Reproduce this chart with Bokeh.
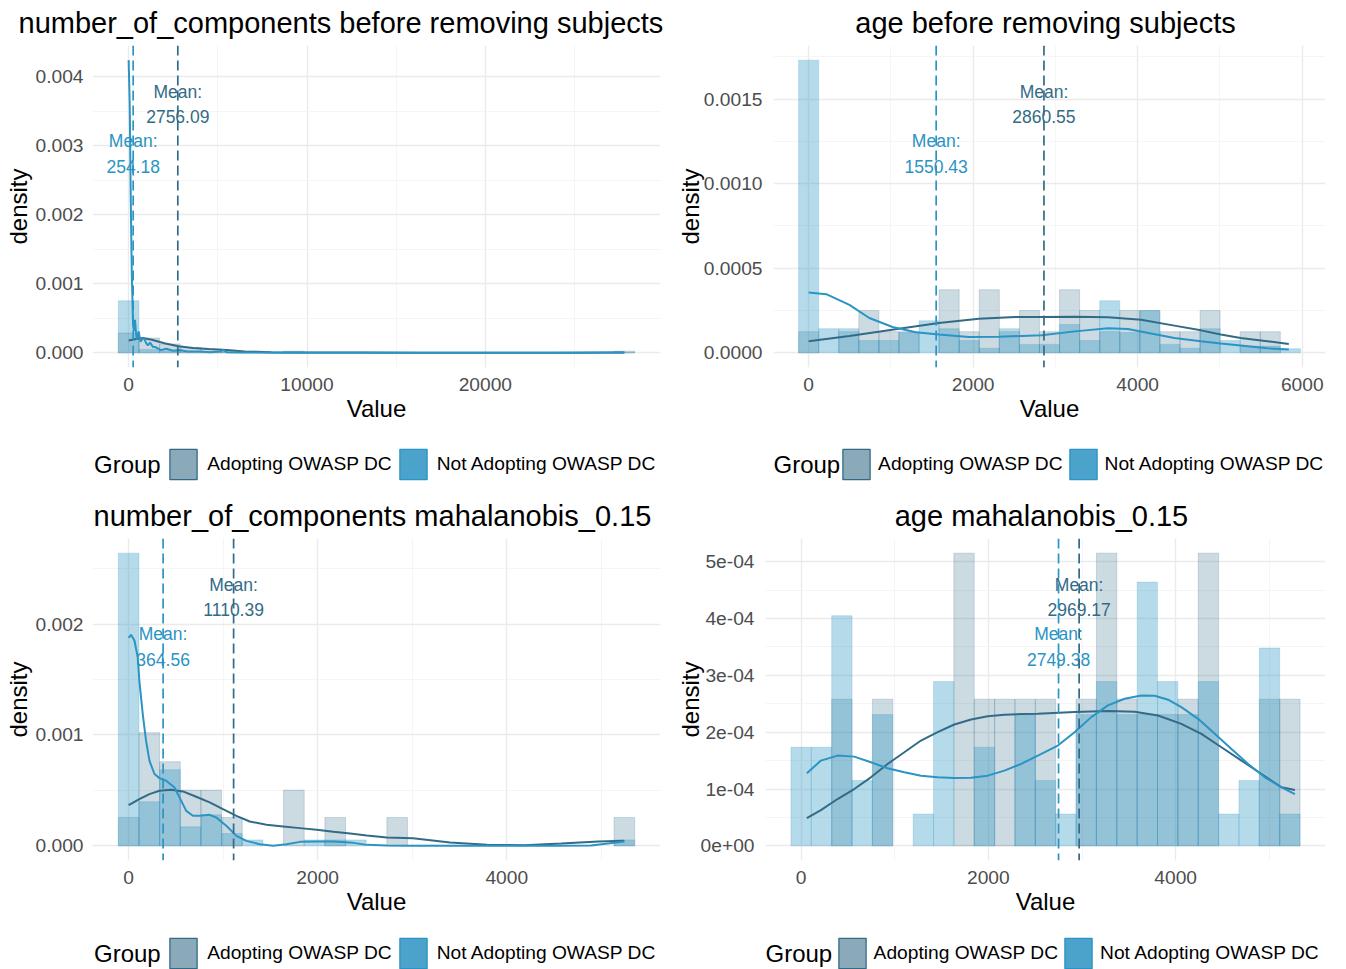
from bokeh.plotting import figure
from bokeh.models import Range1d, FixedTicker, Span, Legend, LegendItem
from bokeh.layouts import column, row
from bokeh.embed import file_html
from bokeh.resources import INLINE
from bokeh.core.properties import value

FONT = "Liberation Sans"
COL_A = "#336B87"
COL_N = "#2A94C4"
KEY_A = "#8AAAB9"
KEY_N = "#4BA3CB"
GROUP_TITLE = "Group"
GROUPS = ["Adopting OWASP DC", "Not Adopting OWASP DC"]

# ---------------- panel 1: number_of_components, before removing subjects
p1_title = "number_of_components  before removing subjects"
p1_bw = 1158
p1_centers = [0, 1158, 2316, 3474, 4632, 5790, 6948, 8106, 9264, 10422, 11580, 12738, 13896,
              15054, 16212, 17370, 18528, 19686, 20844, 22002, 23160, 24318, 25476, 26634, 27792]
p1_dens_a = [0.000288, 0.000215, 0.00013, 0.00008, 0.00005, 0.000025, 0.000025, 0, 0.000025,
             0, 0, 0, 0, 0, 0, 0, 0, 0, 0, 0, 0, 0, 0, 0, 0.000025]
p1_dens_n = [0.000754, 0.00005, 0.00003, 0.00002, 0.00001, 0.00001, 0, 0, 0,
             0, 0, 0, 0, 0, 0, 0, 0, 0, 0, 0, 0, 0, 0, 0, 0.000006]
p1_kde_n_x = [0, 60, 120, 180, 250, 300, 355, 410, 460, 520, 565, 620, 670, 760, 875, 980, 1080,
              1200, 1350, 1530, 1800, 2100, 2500, 2850, 3300, 4000, 4600, 5100, 5300, 5500, 6500,
              8000, 10000, 15000, 20000, 25000, 27792]
p1_kde_n_y = [0.00424, 0.0036, 0.0022, 0.0011, 0.0004, 0.00032, 0.00048, 0.0003, 0.00019, 0.00027,
              0.00031, 0.00022, 0.00016, 0.0002, 0.00021, 0.00014, 0.00011, 0.00015, 0.00009,
              0.00008, 0.00004, 0.00006, 0.00003, 0.00004, 0.00002, 0.00002, 0.00001, 0.00002,
              0.00004, 0.00001, 0.000005, 0.000003, 0.000002, 0.000001, 0.000001, 0.000002, 0.000005]
p1_kde_a_x = [0, 400, 800, 1300, 2000, 2800, 3600, 4500, 5500, 6500, 8000, 10000, 13000, 16000,
              20000, 24000, 27792]
p1_kde_a_y = [0.00018, 0.0002, 0.000215, 0.00019, 0.00014, 0.000095, 0.00007, 0.000055, 0.00004,
              0.00002, 0.000008, 0.000005, 0.000004, 0.000002, 0.000001, 0.000002, 0.000005]
p1_mean_a = 2756.09
p1_mean_n = 254.18
p1_xticks = [0, 10000, 20000]
p1_xlabels = ["0", "10000", "20000"]
p1_xminor = [5000, 15000, 25000]
p1_yticks = [0, 0.001, 0.002, 0.003, 0.004]
p1_ylabels = ["0.000", "0.001", "0.002", "0.003", "0.004"]
p1_yminor = [0.0005, 0.0015, 0.0025, 0.0035]

# ---------------- panel 2: age, before removing subjects
p2_title = "age  before removing subjects"
p2_bw = 244
p2_centers = [0, 244, 488, 732, 976, 1220, 1464, 1708, 1952, 2196, 2440, 2684, 2928, 3172, 3416,
              3660, 3904, 4148, 4392, 4636, 4880, 5124, 5368, 5612, 5856]
p2_dens_a = [0.000125, 0, 0.000125, 0.00025, 0.000125, 0.000125, 0, 0.000373, 0.000125, 0.000373,
             0.000125, 0.00025, 0.000125, 0.000373, 0.00025, 0.000125, 0.00025, 0.00025, 0.000125,
             0.000125, 0.00025, 0, 0.000125, 0.000125, 0]
p2_dens_n = [0.00173, 0.000143, 0.000143, 0.0000725, 0.0000725, 0.00012, 0.00019, 0.000143,
             0.0000725, 0.0000275, 0.000143, 0.00005, 0.00005, 0.000167, 0.0000725, 0.000308,
             0.00012, 0.00025, 0.00005, 0.0000275, 0.000143, 0.0000725, 0.00004, 0.00004, 0.000025]
p2_kde_n_x = [0, 214, 496, 738, 1020, 1302, 1584, 1947, 2310, 2592, 2833, 3236, 3639, 3881, 4163,
              4446, 4768, 5010, 5252, 5575, 5837]
p2_kde_n_y = [0.000357, 0.000347, 0.000284, 0.000206, 0.000153, 0.000122, 0.000108, 0.000094,
              0.000095, 0.0001, 0.000104, 0.000127, 0.000145, 0.000141, 0.000114, 0.000088,
              0.000069, 0.000055, 0.000043, 0.000027, 0.00002]
p2_kde_a_x = [0, 496, 1097, 1584, 2069, 2512, 2833, 3236, 3639, 4042, 4446, 4768, 5010, 5252,
              5575, 5837]
p2_kde_a_y = [0.0000686, 0.0001, 0.000143, 0.000176, 0.000202, 0.000212, 0.000212, 0.000214,
              0.00021, 0.000196, 0.000161, 0.000133, 0.000108, 0.000088, 0.000069, 0.000053]
p2_mean_a = 2860.55
p2_mean_n = 1550.43
p2_xticks = [0, 2000, 4000, 6000]
p2_xlabels = ["0", "2000", "4000", "6000"]
p2_xminor = [1000, 3000, 5000]
p2_yticks = [0, 0.0005, 0.001, 0.0015]
p2_ylabels = ["0.0000", "0.0005", "0.0010", "0.0015"]
p2_yminor = [0.00025, 0.00075, 0.00125, 0.00175]

# ---------------- panel 3: number_of_components, mahalanobis_0.15
p3_title = "number_of_components  mahalanobis_0.15"
p3_bw = 218.5
p3_centers = [0, 218.5, 437, 655.5, 874, 1092.5, 1311, 1529.5, 1748, 1966.5, 2185, 2403.5, 2622,
              2840.5, 3059, 3277.5, 3496, 3714.5, 3933, 4151.5, 4370, 4588.5, 4807, 5025.5, 5244]
p3_dens_a = [0.000256, 0.001021, 0.000759, 0.000503, 0.000503, 0.000256, 0, 0, 0.000503, 0,
             0.000256, 0, 0, 0.000256, 0, 0, 0, 0, 0, 0, 0, 0, 0, 0, 0.000256]
p3_dens_n = [0.00264, 0.000398, 0.000687, 0.000172, 0.00028, 0.000111, 0.000054, 0, 0, 0.000054,
             0.000054, 0.000054, 0, 0, 0, 0, 0, 0, 0, 0, 0, 0, 0, 0, 0.000054]
p3_kde_n_x = [0, 25, 61, 96, 113, 149, 184, 220, 273, 326, 397, 485, 538, 609, 680, 750, 857, 927,
              1033, 1140, 1246, 1387, 1529, 1670, 1812, 1989, 2166, 2378, 2520, 2732, 3000, 3500,
              4000, 4500, 4890, 5047, 5244]
p3_kde_n_y = [0.001876, 0.001904, 0.001852, 0.001702, 0.001491, 0.00119, 0.000949, 0.000768,
              0.000648, 0.000611, 0.000587, 0.000527, 0.000437, 0.000316, 0.000271, 0.000271,
              0.00028, 0.000256, 0.000181, 0.00009, 0.000045, 0.000015, 0.0, 0.000015, 0.000036,
              0.000039, 0.000039, 0.000027, 0.000009, 0.000003, 0.000001, 0.0, 0.0, 0.000001,
              0.000003, 0.00002, 0.00004]
p3_kde_a_x = [0, 113, 220, 326, 450, 574, 715, 857, 998, 1140, 1281, 1458, 1635, 1812, 1989, 2166,
              2343, 2520, 2732, 3008, 3400, 3792, 4184, 4576, 4969, 5244]
p3_kde_a_y = [0.000367, 0.000422, 0.000467, 0.000497, 0.000506, 0.000491, 0.000443, 0.000392,
              0.000331, 0.000271, 0.00022, 0.00019, 0.000175, 0.00016, 0.000145, 0.000127,
              0.000112, 0.000093, 0.000075, 0.000069, 0.00003, 0.000009, 0.000006, 0.000021,
              0.000039, 0.000045]
p3_mean_a = 1110.39
p3_mean_n = 364.56
p3_xticks = [0, 2000, 4000]
p3_xlabels = ["0", "2000", "4000"]
p3_xminor = [1000, 3000, 5000]
p3_yticks = [0, 0.001, 0.002]
p3_ylabels = ["0.000", "0.001", "0.002"]
p3_yminor = [0.0005, 0.0015, 0.0025]

# ---------------- panel 4: age, mahalanobis_0.15
p4_title = "age  mahalanobis_0.15"
p4_bw = 217.5
p4_centers = [0, 217.5, 435, 652.5, 870, 1087.5, 1305, 1522.5, 1740, 1957.5, 2175, 2392.5, 2610,
              2827.5, 3045, 3262.5, 3480, 3697.5, 3915, 4132.5, 4350, 4567.5, 4785, 5002.5, 5220]
p4_dens_a = [0, 0, 0.000258, 0, 0.000258, 0, 0, 0, 0.000515, 0.000258, 0.000258, 0.000258,
             0.000258, 0, 0.000258, 0.000515, 0.000258, 0.000231, 0.000231, 0.000258, 0.000515,
             0, 0, 0.000258, 0.000258]
p4_dens_n = [0.0001735, 0.0001735, 0.000405, 0.000115, 0.000231, 0, 0.0000559, 0.000289, 0,
             0.0001735, 0, 0.000231, 0.000115, 0.0000559, 0.000231, 0.000289, 0.000231, 0.000464,
             0.000289, 0.000231, 0.000289, 0.0000559, 0.000115, 0.000348, 0.0000559]
p4_kde_n_x = [61, 211, 389, 567, 745, 923, 1102, 1280, 1458, 1636, 1815, 1993, 2171, 2349, 2528,
              2742, 2920, 3099, 3277, 3455, 3634, 3776, 3919, 4061, 4240, 4418, 4596, 4775, 4953,
              5131, 5274]
p4_kde_n_y = [0.0001276, 0.00015, 0.0001588, 0.000157, 0.000147, 0.0001365, 0.0001294, 0.0001235,
              0.0001206, 0.0001194, 0.00012, 0.0001235, 0.0001324, 0.0001441, 0.0001588, 0.0001765,
              0.0002, 0.0002265, 0.0002471, 0.0002588, 0.0002647, 0.0002641, 0.0002571, 0.0002441,
              0.0002235, 0.0001971, 0.0001706, 0.0001441, 0.0001206, 0.000103, 0.0000912]
p4_kde_a_x = [61, 211, 389, 567, 745, 923, 1102, 1280, 1458, 1636, 1815, 1993, 2171, 2349, 2528,
              2920, 3277, 3563, 3812, 4061, 4275, 4489, 4703, 4917, 5131, 5274]
p4_kde_a_y = [0.0000488, 0.000063, 0.0000824, 0.0001, 0.0001206, 0.0001441, 0.0001647, 0.0001853,
              0.0002, 0.0002135, 0.0002224, 0.0002282, 0.0002306, 0.0002318, 0.0002324, 0.0002353,
              0.0002371, 0.0002359, 0.0002294, 0.0002147, 0.0001971, 0.0001735, 0.00015,
              0.0001265, 0.000103, 0.0000982]
p4_mean_a = 2969.17
p4_mean_n = 2749.38
p4_xticks = [0, 2000, 4000]
p4_xlabels = ["0", "2000", "4000"]
p4_xminor = [1000, 3000, 5000]
p4_yticks = [0, 0.0001, 0.0002, 0.0003, 0.0004, 0.0005]
p4_ylabels = ["0e+00", "1e-04", "2e-04", "3e-04", "4e-04", "5e-04"]
p4_yminor = [0.00005, 0.00015, 0.00025, 0.00035, 0.00045]

FIG_W = 673
KEY_W = 34         # legend glyph cell (Bokeh draws area keys inset by 10%)
KEY_H = 38
LABEL_A_W = 185.7  # width of the first legend label at 19.2px


def build(title, centers, bw, dens_a, dens_n, kax, kay, knx, kny, mean_a, mean_n,
          xticks, xlabels, xminor, yticks, ylabels, yminor,
          b_left, b_right, ylab_standoff, ytick_standoff, title_align, title_offset):
    lo = min(centers) - bw / 2
    hi = max(centers) + bw / 2
    xpad = 0.05 * (hi - lo)
    ymax = max(max(dens_a), max(dens_n), max(kay), max(kny))
    p = figure(width=FIG_W, height=440,
               x_range=Range1d(lo - xpad, hi + xpad),
               y_range=Range1d(-0.05 * ymax, 1.05 * ymax),
               output_backend="svg", toolbar_location=None,
               min_border_left=b_left, min_border_right=b_right,
               min_border_top=45, min_border_bottom=73)
    p.title.text = title
    p.title.text_font = FONT
    p.title.text_font_size = "29px"
    p.title.text_font_style = "normal"
    p.title.text_color = "black"
    p.title.align = title_align
    p.title.offset = title_offset
    p.title.vertical_align = "top"
    p.title.standoff = 10
    p.outline_line_color = None
    p.background_fill_color = "white"
    p.border_fill_color = "white"

    p.xaxis.ticker = FixedTicker(ticks=xticks, minor_ticks=xminor)
    p.yaxis.ticker = FixedTicker(ticks=yticks, minor_ticks=yminor)
    p.xaxis.major_label_overrides = {t: l for t, l in zip(xticks, xlabels)}
    p.yaxis.major_label_overrides = {t: l for t, l in zip(yticks, ylabels)}
    for ax in (p.xaxis[0], p.yaxis[0]):
        ax.axis_line_color = None
        ax.major_tick_line_color = None
        ax.minor_tick_line_color = None
        ax.major_tick_out = 0
        ax.major_tick_in = 0
        ax.major_label_text_font = FONT
        ax.major_label_text_font_size = "19.2px"
        ax.major_label_text_color = "#4D4D4D"
        ax.axis_label_text_font = FONT
        ax.axis_label_text_font_size = "24px"
        ax.axis_label_text_font_style = "normal"
        ax.axis_label_text_color = "black"
    p.xaxis.major_label_standoff = 6
    p.yaxis.major_label_standoff = ytick_standoff
    p.xaxis.axis_label = "Value"
    p.yaxis.axis_label = "density"
    p.xaxis.axis_label_standoff = 1
    p.yaxis.axis_label_standoff = ylab_standoff
    for g in (p.xgrid[0], p.ygrid[0]):
        g.grid_line_color = "#EBEBEB"
        g.grid_line_width = 1.4
        g.minor_grid_line_color = "#F2F2F2"
        g.minor_grid_line_width = 0.8

    for dens, col, alpha in ((dens_a, COL_A, 0.25), (dens_n, COL_N, 0.35)):
        idx = [i for i, d in enumerate(dens) if d > 0]
        p.quad(left=[centers[i] - bw / 2 for i in idx],
               right=[centers[i] + bw / 2 for i in idx],
               bottom=0, top=[dens[i] for i in idx],
               fill_color=col, fill_alpha=alpha,
               line_color=col, line_alpha=0.35, line_width=0.6)
    p.line(kax, kay, line_color=COL_A, line_width=2)
    p.line(knx, kny, line_color=COL_N, line_width=2)

    for m, col, frac in ((mean_a, COL_A, 0.85), (mean_n, COL_N, 0.68)):
        p.add_layout(Span(location=m, dimension="height", line_color=col,
                          line_width=1.7, line_dash="10 5"))
        for txt, off in (("Mean:", -12.5), (f"{m:.2f}", 12.5)):
            p.text(x=[m], y=[frac * ymax], text=[txt], y_offset=off,
                   text_font=value(FONT), text_font_size="17.5px",
                   text_color=col, text_align="center", text_baseline="middle")
    return p


def legend_strip(height, b_left, b_right, group_x, leg_x, center_y, standoff, spacing):
    # the frame of this strip is aligned with the plot above it; units are pixels
    fw = FIG_W - b_left - b_right
    q = figure(width=FIG_W, height=height, x_range=Range1d(0, fw), y_range=Range1d(0, height),
               output_backend="svg", toolbar_location=None, title=None,
               x_axis_location=None, y_axis_location=None,
               min_border_left=b_left, min_border_right=b_right,
               min_border_top=0, min_border_bottom=0)
    q.outline_line_color = None
    q.xgrid.visible = False
    q.ygrid.visible = False
    q.text(x=[group_x], y=[center_y], text=[GROUP_TITLE], text_font=value(FONT),
           text_font_size="24px", text_color="black", text_align="left",
           text_baseline="middle")
    ka = q.quad(left=[-300], right=[-250], bottom=[0], top=[1], fill_color=KEY_A,
                line_color=COL_A, line_width=1.3)
    kn = q.quad(left=[-300], right=[-250], bottom=[0], top=[1], fill_color=KEY_N,
                line_color=COL_N, line_width=1.3)
    lg = Legend(items=[LegendItem(label=GROUPS[0], renderers=[ka]),
                       LegendItem(label=GROUPS[1], renderers=[kn])],
                location=(leg_x, center_y - KEY_H / 2), orientation="horizontal",
                glyph_width=KEY_W, glyph_height=KEY_H, label_standoff=standoff,
                spacing=spacing, padding=0, margin=0,
                border_line_alpha=0, background_fill_alpha=0,
                label_text_font=FONT, label_text_color="black",
                label_text_font_size="19.2px")
    q.add_layout(lg, "center")
    # vertical mean-line marks inside the two key boxes (drawn above the legend)
    cx_a = leg_x + KEY_W / 2
    cx_n = leg_x + KEY_W + standoff + LABEL_A_W + spacing + KEY_W / 2
    q.segment(x0=[cx_a, cx_n], x1=[cx_a, cx_n],
              y0=[center_y - 15, center_y - 15], y1=[center_y + 15, center_y + 15],
              line_color=[COL_A, COL_N], line_width=1.3, level="overlay")
    return q


f1 = build(p1_title, p1_centers, p1_bw, p1_dens_a, p1_dens_n, p1_kde_a_x, p1_kde_a_y,
           p1_kde_n_x, p1_kde_n_y, p1_mean_a, p1_mean_n, p1_xticks, p1_xlabels, p1_xminor,
           p1_yticks, p1_ylabels, p1_yminor, 92, 13, 0, 5, "left", -74)
f2 = build(p2_title, p2_centers, p2_bw, p2_dens_a, p2_dens_n, p2_kde_a_x, p2_kde_a_y,
           p2_kde_n_x, p2_kde_n_y, p2_mean_a, p2_mean_n, p2_xticks, p2_xlabels, p2_xminor,
           p2_yticks, p2_ylabels, p2_yminor, 97, 21, -3, 7, "center", 0)
f3 = build(p3_title, p3_centers, p3_bw, p3_dens_a, p3_dens_n, p3_kde_a_x, p3_kde_a_y,
           p3_kde_n_x, p3_kde_n_y, p3_mean_a, p3_mean_n, p3_xticks, p3_xlabels, p3_xminor,
           p3_yticks, p3_ylabels, p3_yminor, 92, 13, 0, 5, "center", 0)
f4 = build(p4_title, p4_centers, p4_bw, p4_dens_a, p4_dens_n, p4_kde_a_x, p4_kde_a_y,
           p4_kde_n_x, p4_kde_n_y, p4_mean_a, p4_mean_n, p4_xticks, p4_xlabels, p4_xminor,
           p4_yticks, p4_ylabels, p4_yminor, 92, 21, -6, 7, "center", 0)

g1 = legend_strip(53, 92, 13, 1.5, 74.2, 29, 7, 4)
g2 = legend_strip(53, 97, 21, 0, 66.1, 29, 5, 3)
g3 = legend_strip(36, 92, 13, 1.5, 74.2, 16, 7, 4)
g4 = legend_strip(36, 92, 21, 0, 69.6, 16, 5, 3)

layout = column(row(column(f1, g1), column(f2, g2)),
                row(column(f3, g3), column(f4, g4)))
open("out.html", "w").write(file_html(layout, INLINE))
